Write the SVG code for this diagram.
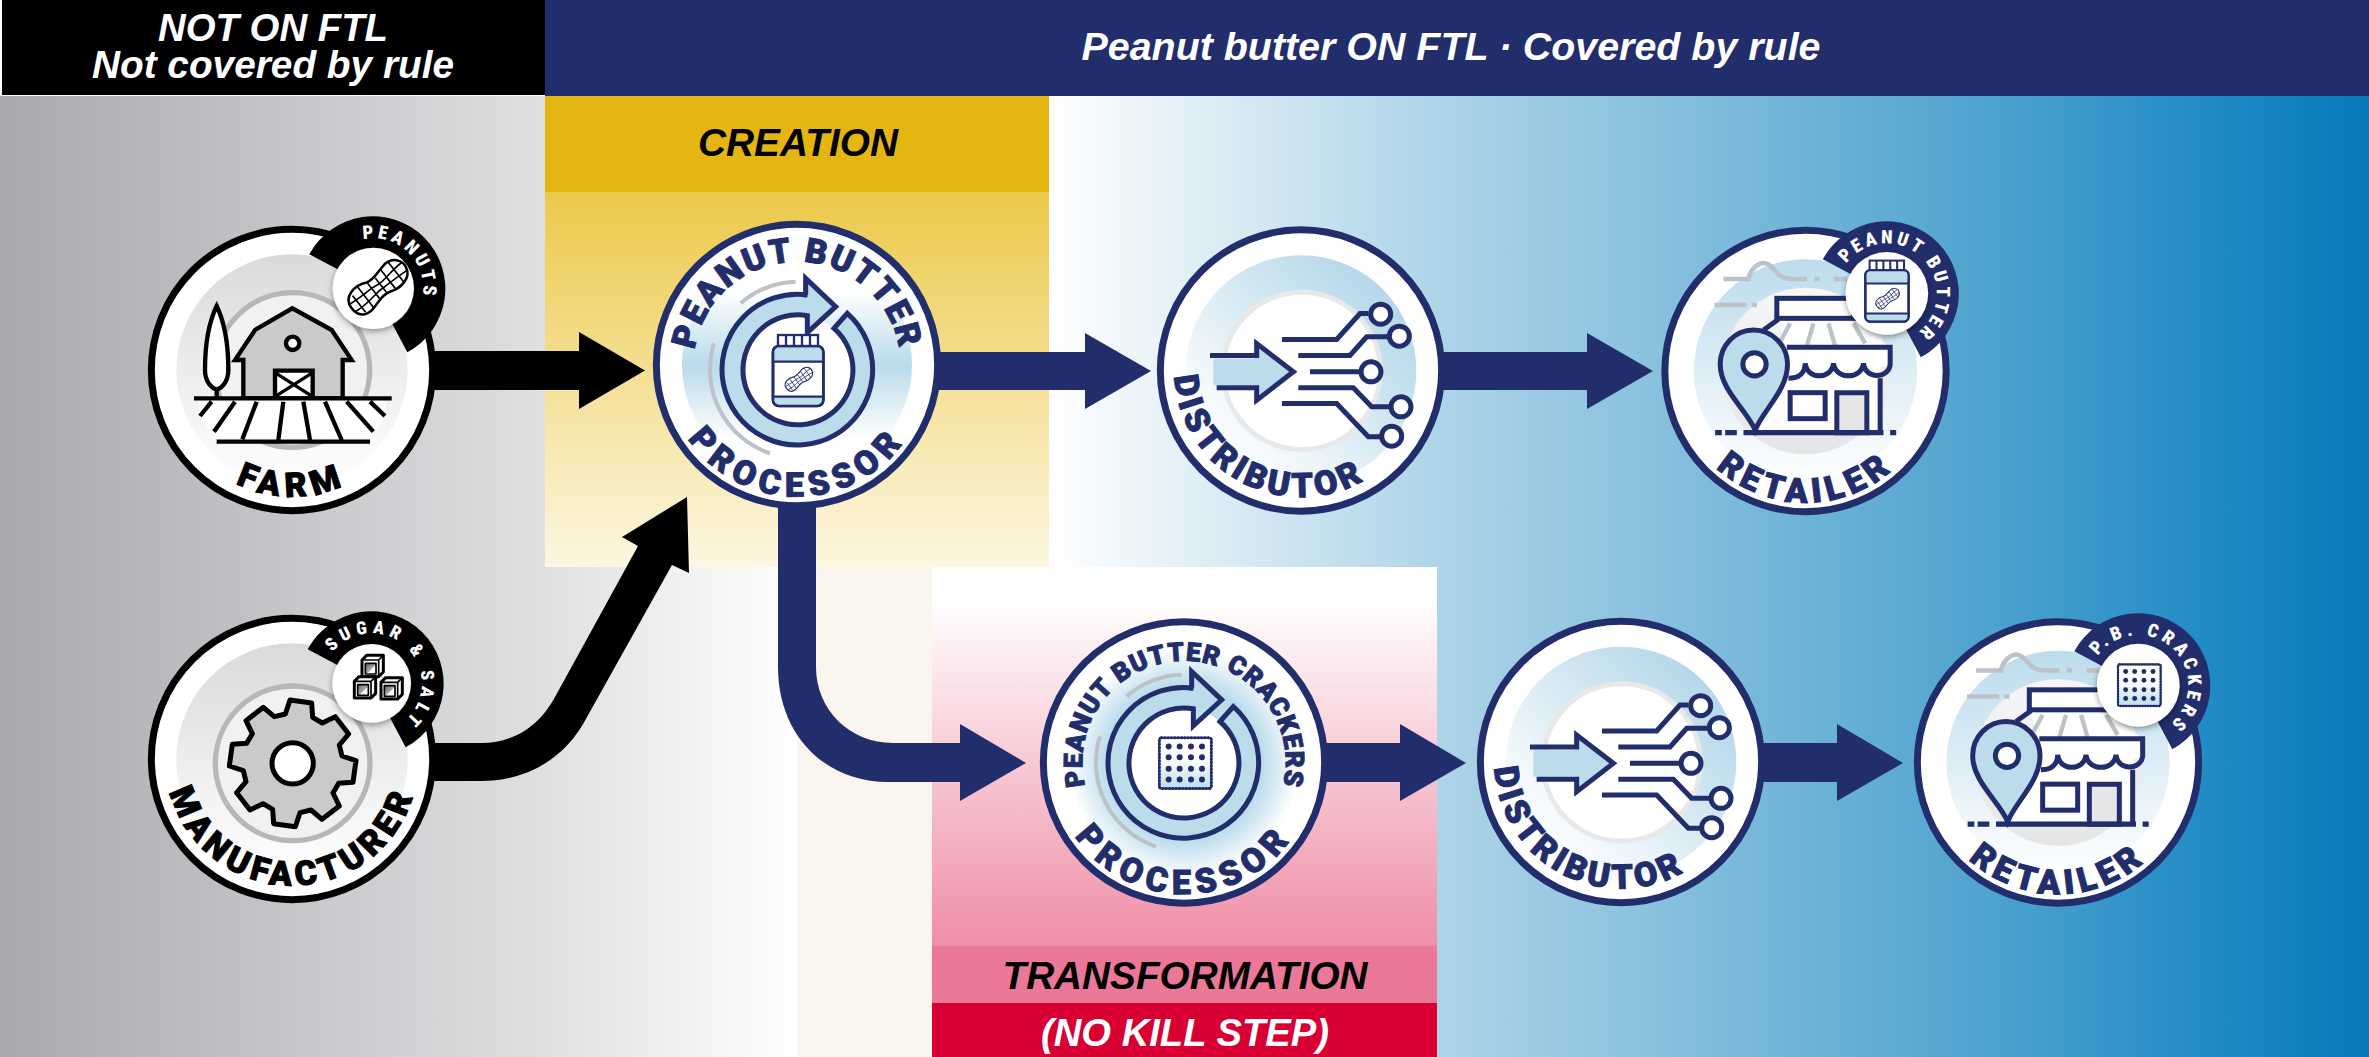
<svg xmlns="http://www.w3.org/2000/svg" width="2369" height="1057" viewBox="0 0 2369 1057">
<style>
.h{font-family:"Liberation Sans",Arial,sans-serif;font-weight:700;font-style:italic;font-size:38px;text-anchor:middle}
.nv{fill:#222d6b}.bk{fill:#000}
.n{font-family:Roboto,"Liberation Sans",sans-serif;font-weight:900;font-stretch:88%;font-size:102px;text-anchor:middle;stroke-width:3px}
.t{font-family:Roboto,"Liberation Sans",sans-serif;font-weight:900;font-stretch:75%;font-size:56px;text-anchor:middle;fill:#fff}
.sn{stroke:#222d6b;stroke-width:15;fill:none}
</style>
<defs>
<linearGradient id="gGray" gradientUnits="userSpaceOnUse" x1="0" y1="0" x2="797" y2="0"><stop offset="0" stop-color="#a8a9ac"/><stop offset=".684" stop-color="#dfe0e2"/><stop offset="1" stop-color="#fff"/></linearGradient>
<linearGradient id="gYel" x1="0" y1="0" x2="0" y2="1"><stop offset="0" stop-color="#ecc94a"/><stop offset="1" stop-color="#fdf7e2"/></linearGradient>
<linearGradient id="gBlue" gradientUnits="userSpaceOnUse" x1="1049" y1="0" x2="2369" y2="0"><stop offset="0" stop-color="#fff"/><stop offset=".295" stop-color="#aed4e8"/><stop offset=".71" stop-color="#4fa3cf"/><stop offset=".9" stop-color="#1b88c2"/><stop offset="1" stop-color="#0679b8"/></linearGradient>
<linearGradient id="gPink" x1="0" y1="0" x2="0" y2="1"><stop offset=".08" stop-color="#fff"/><stop offset="1" stop-color="#ef8ea7"/></linearGradient>
<linearGradient id="dGray" x1="0" y1="0" x2="0" y2="1"><stop offset="0" stop-color="#d8dbda"/><stop offset="1" stop-color="#fff"/></linearGradient>
<linearGradient id="dV" x1="0" y1="0" x2="0" y2="1"><stop offset=".18" stop-color="#fff"/><stop offset=".5" stop-color="#b9dbeb"/><stop offset=".82" stop-color="#fff"/></linearGradient>
<radialGradient id="dR"><stop offset=".68" stop-color="#bcdcec"/><stop offset="1" stop-color="#fff"/></radialGradient>
<linearGradient id="dD" x1="0" y1="1" x2="1" y2="0"><stop offset=".15" stop-color="#fff"/><stop offset=".85" stop-color="#b5d8ea"/></linearGradient>
<linearGradient id="dS" x1="0" y1="0" x2="0" y2="1"><stop offset="0" stop-color="#bcdcec"/><stop offset="1" stop-color="#fff"/></linearGradient>
<linearGradient id="dI" x1="0" y1="0" x2="0" y2="1"><stop offset="0" stop-color="#f6f6f6"/><stop offset="1" stop-color="#e5e5e5"/></linearGradient>
<linearGradient id="dC" x1="0" y1="0" x2="0" y2="1"><stop offset=".4" stop-color="#fff"/><stop offset="1" stop-color="#bcdcec"/></linearGradient>
<linearGradient id="cubeG" x1="0" y1="0" x2="1" y2="1"><stop offset="0" stop-color="#666"/><stop offset=".55" stop-color="#aaa"/><stop offset=".56" stop-color="#fff"/></linearGradient>
<filter id="sh" x="-30%" y="-30%" width="160%" height="160%"><feDropShadow dx="0" dy="7" stdDeviation="9" flood-opacity=".4"/></filter>
<path id="t150" d="M0 150A150 150 0 1 1 0 -150A150 150 0 1 1 0 150"/>
<path id="t310" d="M0 310A310 310 0 1 1 0 -310A310 310 0 1 1 0 310"/>
<path id="t305" d="M0 305A305 305 0 1 1 0 -305A305 305 0 1 1 0 305"/>
<path id="b380" d="M0 -380A380 380 0 1 0 0 380A380 380 0 1 0 0 -380"/>
<path id="b395" d="M0 -395A395 395 0 1 0 0 395A395 395 0 1 0 0 -395"/>
<path id="wedge" d="M-192 -102A217 217 0 1 1 102 192L0 0Z"/>
<g id="peanut" fill="#fff" stroke="currentColor" stroke-width="6" stroke-linejoin="round"><path d="M-80 0C-80 -35 -40 -38 -15 -26C5 -20 20 -30 45 -34C75 -36 85 -10 80 5C75 30 40 35 15 25C-5 18 -25 30 -45 33C-70 35 -80 20 -80 0Z"/><path d="M-60 -22V28M-38 -30V32M-14 -24V22M8 -22V20M30 -30V28M55 -34V28M-78 -10C-40 -6 -20 -10 0 -6S50 -14 80 -12M-78 12C-40 16 -20 8 0 8S50 8 78 10" fill="none" stroke-width="4"/></g>
<g id="cube" stroke="#000" stroke-width="9" stroke-linejoin="round"><path d="M-32 -18L-18 -32H32V18L18 32H-32Z" fill="#fff"/><rect x="-22" y="-8" width="32" height="32" fill="url(#cubeG)" stroke-width="5"/><path d="M-32 -18H18V32M18 -18L32 -32" fill="none" stroke-width="5"/></g>
<g id="jar"><rect x="-75" y="-72" width="151" height="180" rx="18" fill="#fff" stroke="#222d6b" stroke-width="8"/><path d="M-72 -70H73V-25H-72ZM-72 80H73V104H-72Z" fill="#bcdcec"/><rect x="-75" y="-72" width="151" height="180" rx="18" fill="none" stroke="#222d6b" stroke-width="8"/><path d="M-75 -25H76M-75 80H76" stroke="#222d6b" stroke-width="7"/><rect x="-60" y="-105" width="120" height="33" fill="#fff" stroke="#222d6b" stroke-width="7"/><path d="M-36 -105V-72M-12 -105V-72M12 -105V-72M36 -105V-72" stroke="#222d6b" stroke-width="7"/><use href="#peanut" transform="translate(3,28) rotate(-35) scale(.58)" style="color:#222d6b"/></g>
<g id="cracker"><rect x="-78" y="-76" width="156" height="152" rx="6" fill="url(#dC)" stroke="#222d6b" stroke-width="6"/><rect x="-78" y="-76" width="156" height="152" rx="6" fill="none" stroke="#222d6b" stroke-width="9" stroke-dasharray="1 9" stroke-linecap="round"/><g class="nv"><circle cx="-50" cy="-50" r="9"/><circle cx="-17" cy="-50" r="9"/><circle cx="17" cy="-50" r="9"/><circle cx="50" cy="-50" r="9"/><circle cx="-50" cy="-18" r="9"/><circle cx="-17" cy="-18" r="9"/><circle cx="17" cy="-18" r="9"/><circle cx="50" cy="-18" r="9"/><circle cx="-50" cy="17" r="9"/><circle cx="-17" cy="17" r="9"/><circle cx="17" cy="17" r="9"/><circle cx="50" cy="17" r="9"/><circle cx="-50" cy="49" r="9"/><circle cx="-17" cy="49" r="9"/><circle cx="17" cy="49" r="9"/><circle cx="50" cy="49" r="9"/></g></g>
<g id="cycle"><circle r="165" fill="#fff"/><path d="M-7 -265A265 265 0 0 0 -172 -200M-252 -80A265 265 0 0 0 -84 250" fill="none" stroke="#bcc2c8" stroke-width="12"/><path d="M28 -225A226 226 0 1 0 148 -170L108 -125A165 165 0 1 1 28 -163V-112L113 -190L23 -275V-225Z" fill="#bcdcec" stroke="#222d6b" stroke-width="15" stroke-linejoin="miter"/></g>
<g id="distIcon" transform="translate(-453,-481)"><circle cx="455" cy="482" r="236" fill="#fff" stroke="#e8e8e8" stroke-width="15"/><path d="M190 445H315V405L420 485L315 565V525H190Z" fill="#bcdcec"/><path class="sn" d="M180 436H320V400L430 485L320 570V533H200"/><path class="sn" d="M396 388H560L630 310H655M445 436H600L650 380H715M480 485H640M445 533H610L665 590H720M396 580H560L655 680H690"/><g fill="#fff" stroke="#222d6b" stroke-width="15"><circle cx="692" cy="312" r="30"/><circle cx="748" cy="378" r="30"/><circle cx="663" cy="485" r="30"/><circle cx="753" cy="590" r="30"/><circle cx="725" cy="678" r="30"/></g></g>
<g id="storeIcon" transform="translate(-466,-483)"><circle cx="466" cy="483" r="250" fill="url(#dI)"/><path d="M220 207H295C300 175 330 155 345 160C370 165 375 190 395 200C410 208 425 207 470 207M492 207H508M552 207H590M193 285H290M305 285H320" stroke="#bcc2c8" stroke-width="14" fill="none"/><path d="M385 330H600L720 410V470H690V668H330V500L400 400Z" fill="#fff"/><path d="M420 340L392 392M490 340L470 408M535 340L555 408M610 340L645 400" stroke="#bcc2c8" stroke-width="13" fill="none"/><rect x="380" y="265" width="230" height="60" fill="#fff" stroke="#222d6b" stroke-width="15"/><path class="sn" d="M385 328L340 360M410 412H720V465C715 505 645 510 640 460C635 510 555 510 550 460C545 510 470 510 465 460C465 490 445 505 415 505M690 505V668"/><path d="M560 668V548H650V668Z" fill="#e6e6e6" stroke="#222d6b" stroke-width="15"/><rect x="420" y="548" width="105" height="78" fill="#fff" stroke="#222d6b" stroke-width="15"/><path d="M315 660C290 600 210 540 210 463C210 405 255 360 310 360C365 360 412 405 412 463C412 540 340 600 315 660Z" fill="#bcdcec" stroke="#222d6b" stroke-width="15"/><circle cx="313" cy="463" r="35" fill="#fff" stroke="#222d6b" stroke-width="15"/><path d="M280 668H700M195 668H215M225 668H260M720 668H738" stroke="#222d6b" stroke-width="16"/></g>
</defs>

<g id="background">
<rect width="2369" height="1057" fill="#fff"/>
<rect y="96" width="797" height="961" fill="url(#gGray)"/>
<rect x="797" y="567" width="135" height="490" fill="#faf5ee"/>
<rect x="1049" y="96" width="1320" height="471" fill="url(#gBlue)"/>
<rect x="1437" y="567" width="932" height="490" fill="url(#gBlue)"/>
<rect x="545" y="192" width="504" height="375" fill="url(#gYel)"/>
<rect x="545" y="96" width="504" height="96" fill="#e5b611"/>
<rect x="932" y="567" width="505" height="379" fill="url(#gPink)"/>
<rect x="932" y="946" width="505" height="57" fill="#ea7896"/>
<rect x="932" y="1003" width="505" height="54" fill="#d80033"/>
<rect x="2" width="543" height="95" fill="#000"/>
<rect x="545" width="1824" height="96" fill="#222d6b"/>
<text class="h" fill="#fff"><tspan x="273" y="41" textLength="230" lengthAdjust="spacingAndGlyphs">NOT ON FTL</tspan><tspan x="273" y="78" textLength="362" lengthAdjust="spacingAndGlyphs">Not covered by rule</tspan></text>
<text class="h" x="1451" y="60" fill="#fff" textLength="739" lengthAdjust="spacingAndGlyphs">Peanut butter ON FTL  ·  Covered by rule</text>
<text class="h" x="798" y="156" fill="#000" textLength="200" lengthAdjust="spacingAndGlyphs">CREATION</text>
<text class="h" x="1185" y="989" fill="#000" textLength="365" lengthAdjust="spacingAndGlyphs">TRANSFORMATION</text>
<text class="h" x="1185" y="1046" fill="#fff" textLength="288" lengthAdjust="spacingAndGlyphs">(NO KILL STEP)</text>
</g>

<g id="connectors">
<path class="bk" d="M430 351H579V332L645 370.5L579 409V390H430Z"/>
<path class="bk" d="M430 743H481C515 743 540 725 555 697L638 546L622 537L687 497L689 573L672 565L587 717C565 760 525 781 481 781H430Z"/>
<path class="nv" d="M935 352H1085V333L1151 371L1085 409V390H935Z"/>
<path class="nv" d="M1440 352H1587V333L1653 371L1587 409V390H1440Z"/>
<path class="nv" d="M778 500V667C778 735 825 782 888 782H960V801L1026 763L960 724V743H893C850 743 816 710 816 667V500Z"/>
<path class="nv" d="M1320 743H1400V724L1466 763L1400 801V782H1320Z"/>
<path class="nv" d="M1760 743H1837V724L1903 763L1837 801V782H1760Z"/>
</g>

<g id="farm" transform="translate(292,370) scale(.33333)">
<circle r="422" fill="#fff" stroke="#000" stroke-width="21"/>
<circle r="347" fill="url(#dGray)"/>
<g transform="translate(-516,-510)">
<circle cx="517" cy="510" r="232" fill="#f1f1f1" stroke="#b5b7b9" stroke-width="16"/>
<path d="M290 318C265 370 255 440 255 510C255 545 275 565 290 568C305 565 325 545 325 510C325 440 315 370 290 318ZM290 568V595" fill="#fff" stroke="#000" stroke-width="13"/>
<path d="M370 595V480H345L405 390L517 325L635 390L695 480H668V595Z" fill="#c9cacc" stroke="#000" stroke-width="13"/>
<circle cx="518" cy="430" r="20" fill="#fff" stroke="#000" stroke-width="13"/>
<path d="M465 595V512H578V595Z" fill="#fff" stroke="#000" stroke-width="13"/>
<path d="M465 518L578 590M578 518L465 590" stroke="#000" stroke-width="10"/>
<path d="M235 600H800L795 650L745 725H295L240 650Z" fill="#fff"/>
<path d="M222 595H815M290 725H750M275 605L240 648M345 605L282 695M410 605L367 718M490 605L475 720M550 605L570 720M615 605L665 720M680 605L760 695M750 605L795 648" stroke="#000" stroke-width="13" fill="none"/>
</g>
<text class="n bk" stroke="#000" letter-spacing="20"><textPath href="#b380" startOffset="50%">FARM</textPath></text>
<g transform="translate(244,-245)"><use href="#wedge" class="bk"/><circle r="122" fill="#fff" filter="url(#sh)"/><use href="#peanut" transform="translate(15,-3) rotate(-38) scale(1.27)" style="color:#000"/><g transform="rotate(45)"><text class="t" letter-spacing="11"><textPath href="#t150" startOffset="50%">PEANUTS</textPath></text></g></g>
</g>

<g id="manufacturer" transform="translate(292,759) scale(.33333)">
<circle r="422" fill="#fff" stroke="#000" stroke-width="21"/>
<circle r="347" fill="url(#dGray)"/>
<g transform="translate(2,13)"><circle r="232" fill="#f1f1f1" stroke="#b5b7b9" stroke-width="16"/>
<path d="M-22 -148L-8 -190L57 -181L60 -138L89 -121L128 -140L168 -88L140 -55L148 -22L190 -8L181 57L138 60L121 89L140 128L88 168L55 140L22 148L8 190L-57 181L-60 138L-89 121L-128 140L-168 88L-140 55L-148 22L-190 8L-181 -57L-138 -60L-121 -89L-140 -128L-88 -168L-55 -140Z" fill="#c9cacc" stroke="#000" stroke-width="15" stroke-linejoin="round"/>
<circle r="62" fill="#fff" stroke="#000" stroke-width="15"/></g>
<text class="n bk" stroke="#000" letter-spacing="16"><textPath href="#b380" startOffset="50%">MANUFACTURER</textPath></text>
<g transform="translate(239,-227)"><use href="#wedge" class="bk"/><circle r="118" fill="#fff" filter="url(#sh)"/>
<use href="#cube" transform="translate(3,-52)"/><use href="#cube" transform="translate(-20,12)"/><use href="#cube" transform="translate(60,15)"/>
<g transform="rotate(45)"><text class="t" style="font-size:54px;font-stretch:80%" letter-spacing="15"><textPath href="#t150" startOffset="50%">SUGAR &amp; SALT</textPath></text></g></g>
</g>

<g id="processor-pb" transform="translate(797,365) scale(.33333)">
<circle r="422" fill="#fff" stroke="#222d6b" stroke-width="21"/>
<circle r="345" fill="url(#dV)"/>
<g transform="translate(3,15)"><use href="#cycle"/><use href="#jar"/></g>
<text class="n nv" stroke="#222d6b" letter-spacing="6"><textPath href="#t310" startOffset="50%">PEANUT BUTTER</textPath></text>
<text class="n nv" stroke="#222d6b" letter-spacing="20"><textPath href="#b395" startOffset="50%">PROCESSOR</textPath></text>
</g>

<g id="distributor-1" transform="translate(1301,370.5) scale(.33333)">
<circle r="422" fill="#fff" stroke="#222d6b" stroke-width="21"/>
<circle r="346" fill="url(#dD)"/>
<use href="#distIcon"/>
<g transform="rotate(28)"><text class="n nv" stroke="#222d6b" letter-spacing="12"><textPath href="#b380" startOffset="50%">DISTRIBUTOR</textPath></text></g>
</g>

<g id="retailer-1" transform="translate(1805.5,371) scale(.33333)">
<circle r="422" fill="#fff" stroke="#222d6b" stroke-width="21"/>
<circle r="335" fill="url(#dS)"/>
<use href="#storeIcon"/>
<text class="n nv" stroke="#222d6b" letter-spacing="16"><textPath href="#b395" startOffset="50%">RETAILER</textPath></text>
<g transform="translate(244,-233)"><use href="#wedge" class="nv"/><circle r="124" fill="#fff" filter="url(#sh)"/><use href="#jar" transform="translate(0,-8) scale(.86)"/><g transform="rotate(45)"><text class="t" letter-spacing="10"><textPath href="#t150" startOffset="50%">PEANUT BUTTER</textPath></text></g></g>
</g>

<g id="processor-crackers" transform="translate(1184,762.5) scale(.33333)">
<circle r="422" fill="#fff" stroke="#222d6b" stroke-width="21"/>
<circle r="345" fill="url(#dR)"/>
<g transform="translate(0,2)"><use href="#cycle"/><use href="#cracker" transform="translate(4,0)"/></g>
<text class="n nv" stroke="#222d6b" style="font-size:78px" letter-spacing="3"><textPath href="#t305" startOffset="50%">PEANUT BUTTER CRACKERS</textPath></text>
<text class="n nv" stroke="#222d6b" letter-spacing="20"><textPath href="#b395" startOffset="50%">PROCESSOR</textPath></text>
</g>

<g id="distributor-2" transform="translate(1621,762) scale(.33333)">
<circle r="422" fill="#fff" stroke="#222d6b" stroke-width="21"/>
<circle r="346" fill="url(#dD)"/>
<use href="#distIcon"/>
<g transform="rotate(28)"><text class="n nv" stroke="#222d6b" letter-spacing="12"><textPath href="#b380" startOffset="50%">DISTRIBUTOR</textPath></text></g>
</g>

<g id="retailer-2" transform="translate(2058,762.5) scale(.33333)">
<circle r="422" fill="#fff" stroke="#222d6b" stroke-width="21"/>
<circle r="335" fill="url(#dS)"/>
<use href="#storeIcon"/>
<text class="n nv" stroke="#222d6b" letter-spacing="16"><textPath href="#b395" startOffset="50%">RETAILER</textPath></text>
<g transform="translate(241,-232)"><use href="#wedge" class="nv"/><circle r="124" fill="#fff" filter="url(#sh)"/><use href="#cracker" transform="translate(3,0) scale(.82)"/><g transform="rotate(45)"><text class="t" letter-spacing="13"><textPath href="#t150" startOffset="50%">P.B. CRACKERS</textPath></text></g></g>
</g>
</svg>
